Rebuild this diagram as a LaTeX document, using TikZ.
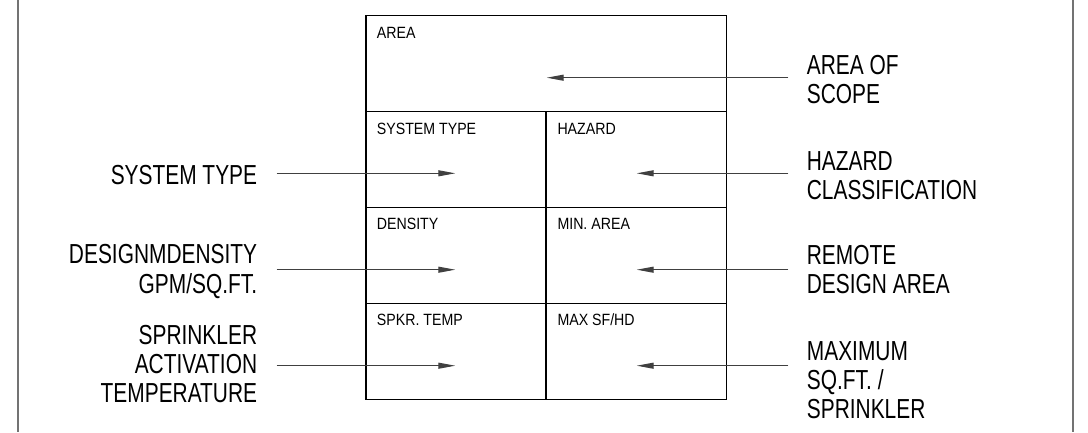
\documentclass[tikz,border=0pt]{standalone}
\usepackage{fontspec}
\usetikzlibrary{arrows.meta}
\newfontfamily\bigfont[FakeStretch=0.76]{Liberation Sans}
\newfontfamily\smallfont[FakeStretch=0.87]{Liberation Sans}
\begin{document}
\begin{tikzpicture}[x=1pt,y=-1pt,
  frameline/.style={draw=black!55,line width=1.5pt},
  tableline/.style={draw=black,line width=1.2pt},
  leader/.style={draw=black!75,line width=1pt,-{Triangle[length=17pt,width=6pt]}},
  celltext/.style={anchor=base west,inner sep=0pt,font=\smallfont\fontsize{16.3}{18}\selectfont},
  biglabel/.style={inner sep=0pt,font=\bigfont\fontsize{27.5}{29.3}\selectfont}
]
\useasboundingbox (0,0) rectangle (1088,432);
% page frame
\draw[frameline] (18,0) -- (18,432);
\draw[frameline] (1073,0) -- (1073,432);
% table
\draw[tableline] (366,15.3) rectangle (726.7,399.3);
\draw[tableline] (366,111.3) -- (726.7,111.3);
\draw[tableline] (366,207.3) -- (726.7,207.3);
\draw[tableline] (366,303.3) -- (726.7,303.3);
\draw[tableline] (546,111.3) -- (546,399.3);
% cell texts
\node[celltext] (cArea) at (376.7,38.3) {AREA};
\node[celltext] (cSys) at (376.7,134) {SYSTEM TYPE};
\node[celltext] (cHaz) at (557.3,134) {HAZARD};
\node[celltext] (cDen) at (376.7,229.3) {DENSITY};
\node[celltext] (cMin) at (557.3,229.3) {MIN. AREA};
\node[celltext] (cSpk) at (376.7,325.3) {SPKR. TEMP};
\node[celltext] (cMax) at (557.3,325.3) {MAX SF/HD};
% left labels
\node[biglabel,anchor=base east] (lSys) at (257.3,184.3) {SYSTEM TYPE};
\node[biglabel,anchor=base east] (lDen) at (257.3,263.7) {\begin{tabular}[t]{@{}r@{}}DESIGNMDENSITY\\GPM/SQ.FT.\end{tabular}};
\node[biglabel,anchor=base east] (lSpr) at (257.3,344.3) {\begin{tabular}[t]{@{}r@{}}SPRINKLER\\ACTIVATION\\TEMPERATURE\end{tabular}};
% right labels
\node[biglabel,anchor=base west] (rArea) at (806.7,74) {\begin{tabular}[t]{@{}l@{}}AREA OF\\SCOPE\end{tabular}};
\node[biglabel,anchor=base west] (rHaz) at (806.7,170.3) {\begin{tabular}[t]{@{}l@{}}HAZARD\\CLASSIFICATION\end{tabular}};
\node[biglabel,anchor=base west] (rRem) at (806.7,264.3) {\begin{tabular}[t]{@{}l@{}}REMOTE\\DESIGN AREA\end{tabular}};
\node[biglabel,anchor=base west] (rMax) at (806.7,360.3) {\begin{tabular}[t]{@{}l@{}}MAXIMUM\\SQ.FT. /\\SPRINKLER\end{tabular}};
% leader coordinates
\coordinate (sArea) at (788.3,77.7);  \coordinate (tArea) at (546.7,77.7);
\coordinate (sHaz) at (788.3,173.3);  \coordinate (tHaz) at (636.7,173.3);
\coordinate (sRem) at (788.3,269.7);  \coordinate (tRem) at (636.7,269.7);
\coordinate (sMax) at (788.3,365.7);  \coordinate (tMax) at (636.7,365.7);
\coordinate (sSys) at (276.7,173.3);  \coordinate (tSys) at (455.3,173.3);
\coordinate (sDen) at (276.7,269.7);  \coordinate (tDen) at (455.3,269.7);
\coordinate (sSpr) at (276.7,365.7);  \coordinate (tSpr) at (455.3,365.7);
% leaders
\draw[leader] (sArea) -- (tArea);
\draw[leader] (sHaz) -- (tHaz);
\draw[leader] (sRem) -- (tRem);
\draw[leader] (sMax) -- (tMax);
\draw[leader] (sSys) -- (tSys);
\draw[leader] (sDen) -- (tDen);
\draw[leader] (sSpr) -- (tSpr);
\end{tikzpicture}
\end{document}
